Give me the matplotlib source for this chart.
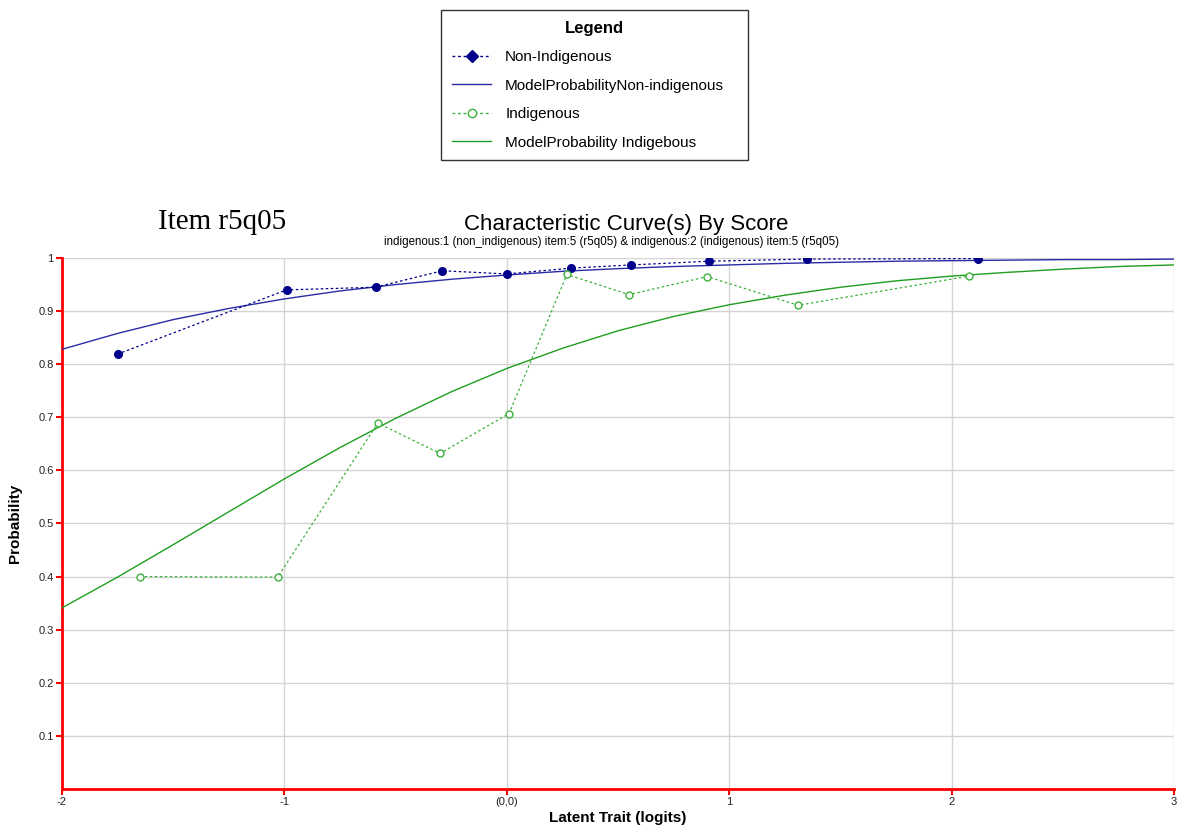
import matplotlib
matplotlib.use('Agg')
import matplotlib.pyplot as plt
from matplotlib.lines import Line2D

plt.rcParams['font.family'] = ['Liberation Sans', 'DejaVu Sans']

x_non = [-1.75, -0.99, -0.59, -0.29, 0.0, 0.29, 0.56, 0.91, 1.35, 2.12]
p_non = [0.819, 0.940, 0.945, 0.976, 0.970, 0.981, 0.987, 0.994, 0.998, 0.999]

x_ind = [-1.65, -1.03, -0.58, -0.30, 0.01, 0.27, 0.55, 0.90, 1.31, 2.08]
p_ind = [0.400, 0.399, 0.689, 0.632, 0.707, 0.969, 0.931, 0.965, 0.911, 0.966]

# model curves, read at 0.25 logit steps
x_model = [-2.0, -1.75, -1.5, -1.25, -1.0, -0.75, -0.5, -0.25, 0.0, 0.25, 0.5,
           0.75, 1.0, 1.25, 1.5, 1.75, 2.0, 2.25, 2.5, 2.75, 3.0]
p_model_non = [0.828, 0.858, 0.884, 0.905, 0.923, 0.938, 0.950, 0.960, 0.968,
               0.975, 0.980, 0.984, 0.987, 0.990, 0.992, 0.994, 0.995, 0.996,
               0.997, 0.997, 0.998]
p_model_ind = [0.341, 0.399, 0.460, 0.522, 0.584, 0.643, 0.698, 0.748, 0.792,
               0.830, 0.863, 0.890, 0.912, 0.930, 0.945, 0.957, 0.966, 0.973,
               0.979, 0.984, 0.987]

yticks = [0.1, 0.2, 0.3, 0.4, 0.5, 0.6, 0.7, 0.8, 0.9, 1.0]
ytick_labels = ['0.1', '0.2', '0.3', '0.4', '0.5', '0.6', '0.7', '0.8', '0.9', '1']
xticks = [-2, -1, 0, 1, 2, 3]
xtick_labels = ['-2', '-1', '(0,0)', '1', '2', '3']

navy = '#00008b'
blue_line = '#2b2ba6'
green_pts = '#3cb03c'
green_line = '#1f9e1f'

fig = plt.figure(figsize=(11.8, 8.27), dpi=100)
ax = fig.add_axes([0.0525, 0.046, 0.9425, 0.642])

ax.plot(x_model, p_model_non, color=blue_line, linewidth=1.0, zorder=3)
ax.plot(x_model, p_model_ind, color=green_line, linewidth=1.0, zorder=3)
ax.plot(x_non, p_non, color=navy, linestyle=(0, (2, 2)), linewidth=0.9,
        marker='o', markersize=5.5, markerfacecolor=navy, markeredgecolor=navy, zorder=4)
ax.plot(x_ind, p_ind, color=green_pts, linestyle=(0, (2, 2)), linewidth=0.9,
        marker='o', markersize=5, markerfacecolor='white', markeredgecolor=green_pts,
        markeredgewidth=1.0, zorder=4)

ax.set_xlim(-2, 3)
ax.set_ylim(0, 1)
ax.set_xticks(xticks)
ax.set_xticklabels(xtick_labels)
ax.set_yticks(yticks)
ax.set_yticklabels(ytick_labels)
ax.grid(True, color='#d4d4d4', linewidth=1.0)
ax.set_axisbelow(True)
for s in ['top', 'right']:
    ax.spines[s].set_visible(False)
for s in ['left', 'bottom']:
    ax.spines[s].set_color('red')
    ax.spines[s].set_linewidth(2.0)
ax.tick_params(axis='both', colors='red', labelcolor='#222222', labelsize=8,
               length=4, width=1.5, pad=2)

ax.set_xlabel('Latent Trait (logits)', fontsize=11, fontweight='bold', labelpad=3)
ax.set_ylabel('Probability', fontsize=11, fontweight='bold', labelpad=12)

fig.text(0.531, 0.716, 'Characteristic Curve(s) By Score', ha='center', va='bottom',
         fontsize=16)
fig.text(0.518, 0.700,
         'indigenous:1 (non_indigenous) item:5 (r5q05) & indigenous:2 (indigenous) item:5 (r5q05)',
         ha='center', va='bottom', fontsize=8.3)
fig.text(0.134, 0.716, 'Item r5q05', ha='left', va='bottom', fontsize=21,
         family=['Liberation Serif', 'DejaVu Serif'])

handles = [
    Line2D([], [], color=navy, linestyle=(0, (2, 2)), marker='D', markersize=6,
           markerfacecolor=navy, markeredgecolor=navy, linewidth=1.0),
    Line2D([], [], color=blue_line, linewidth=1.0),
    Line2D([], [], color=green_pts, linestyle=(0, (2, 2)), marker='o', markersize=6,
           markerfacecolor='white', markeredgecolor=green_pts, linewidth=1.0),
    Line2D([], [], color=green_line, linewidth=1.0),
]
labels = ['Non-Indigenous', 'ModelProbabilityNon-indigenous', 'Indigenous',
          'ModelProbability Indigebous']
leg = fig.legend(handles, labels, title='Legend', loc='upper left',
                 bbox_to_anchor=(0.3737, 0.802, 0.2602, 0.186), mode='expand',
                 borderaxespad=0, frameon=True, fancybox=False, fontsize=11,
                 title_fontproperties={'weight': 'bold', 'size': 12},
                 handlelength=2.6, borderpad=0.7, labelspacing=0.95, handletextpad=0.9)
leg.get_frame().set_edgecolor('black')
leg.get_frame().set_linewidth(1.0)

fig.savefig('out.png', dpi=100)
